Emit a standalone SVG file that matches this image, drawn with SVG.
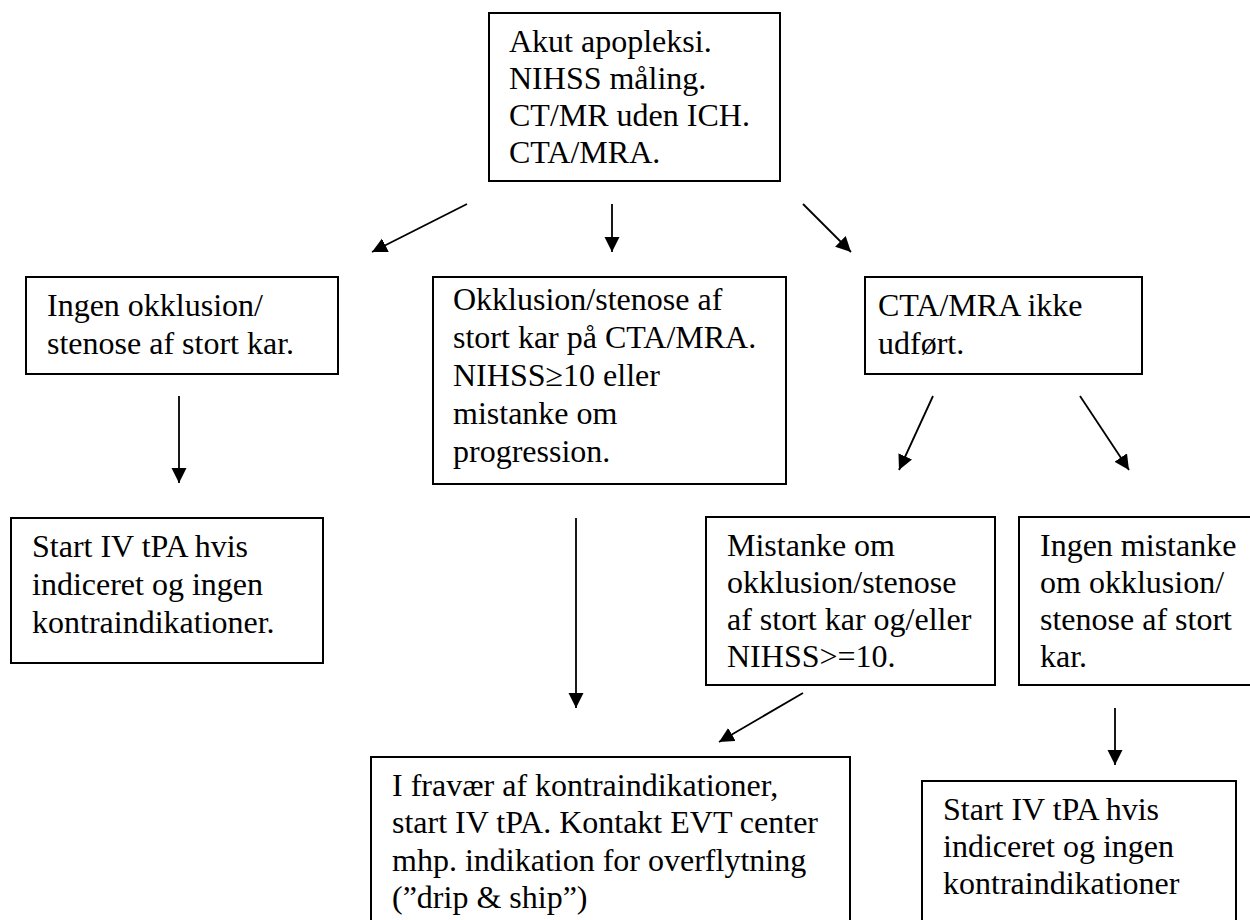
<svg xmlns="http://www.w3.org/2000/svg" width="1250" height="920" viewBox="0 0 1250 920">
<style>
.box{fill:#fff;stroke:#000;stroke-width:2}
.t{font-family:"Liberation Serif","Times New Roman",serif;font-size:32px;fill:#000}
.c{stroke:#000;stroke-width:1.8;fill:none;marker-end:url(#ah)}
</style>
<defs>
<marker id="ah" markerUnits="userSpaceOnUse" markerWidth="16" markerHeight="16" refX="15" refY="7.5" orient="auto">
<path d="M0,0 L15,7.5 L0,15 z" fill="#000"/>
</marker>
</defs>
<rect width="1250" height="920" fill="#fff"/>
<g id="connectors">
<line class="c" x1="467" y1="204" x2="372" y2="252"/>
<line class="c" x1="612" y1="204" x2="612" y2="252"/>
<line class="c" x1="803" y1="204" x2="851" y2="252"/>
<line class="c" x1="179" y1="396" x2="179" y2="483"/>
<line class="c" x1="576" y1="518" x2="576" y2="708"/>
<line class="c" x1="933" y1="396" x2="899" y2="470"/>
<line class="c" x1="1080" y1="396" x2="1129" y2="470"/>
<line class="c" x1="803" y1="693" x2="719" y2="742"/>
<line class="c" x1="1115" y1="708" x2="1115" y2="765"/>
</g>
<g id="n-start">
<rect class="box" x="489" y="13" width="291" height="168"/>
<text class="t" x="509" y="52">Akut apopleksi.</text>
<text class="t" x="509" y="89">NIHSS måling.</text>
<text class="t" x="509" y="126">CT/MR uden ICH.</text>
<text class="t" x="509" y="163">CTA/MRA.</text>
</g>
<g id="n-ingen">
<rect class="box" x="26" y="277" width="312" height="97"/>
<text class="t" x="47" y="316">Ingen okklusion/</text>
<text class="t" x="47" y="354">stenose af stort kar.</text>
</g>
<g id="n-okklusion">
<rect class="box" x="433" y="277" width="353" height="207"/>
<text class="t" x="453" y="310">Okklusion/stenose af</text>
<text class="t" x="453" y="348">stort kar på CTA/MRA.</text>
<text class="t" x="453" y="386">NIHSS≥10 eller</text>
<text class="t" x="453" y="424">mistanke om</text>
<text class="t" x="453" y="462">progression.</text>
</g>
<g id="n-ikke">
<rect class="box" x="865" y="277" width="277" height="97"/>
<text class="t" x="878" y="316">CTA/MRA ikke</text>
<text class="t" x="878" y="354">udført.</text>
</g>
<g id="n-tpa-left">
<rect class="box" x="11" y="518" width="312" height="145"/>
<text class="t" x="32" y="557">Start IV tPA hvis</text>
<text class="t" x="32" y="595">indiceret og ingen</text>
<text class="t" x="32" y="633">kontraindikationer.</text>
</g>
<g id="n-mistanke">
<rect class="box" x="706" y="517" width="289" height="168"/>
<text class="t" x="727" y="556">Mistanke om</text>
<text class="t" x="727" y="593">okklusion/stenose</text>
<text class="t" x="727" y="630">af stort kar og/eller</text>
<text class="t" x="727" y="667">NIHSS&gt;=10.</text>
</g>
<g id="n-ingen-mistanke">
<rect class="box" x="1019" y="517" width="250" height="168"/>
<text class="t" x="1040" y="556">Ingen mistanke</text>
<text class="t" x="1040" y="593">om okklusion/</text>
<text class="t" x="1040" y="630">stenose af stort</text>
<text class="t" x="1040" y="667">kar.</text>
</g>
<g id="n-drip">
<rect class="box" x="371" y="757" width="479" height="180"/>
<text class="t" x="392" y="796">I fravær af kontraindikationer,</text>
<text class="t" x="392" y="833">start IV tPA. Kontakt EVT center</text>
<text class="t" x="392" y="871">mhp. indikation for overflytning</text>
<text class="t" x="392" y="908">(”drip &amp; ship”)</text>
</g>
<g id="n-tpa-right">
<rect class="box" x="922" y="781" width="314" height="160"/>
<text class="t" x="943" y="820">Start IV tPA hvis</text>
<text class="t" x="943" y="857">indiceret og ingen</text>
<text class="t" x="943" y="894">kontraindikationer</text>
</g>
</svg>
